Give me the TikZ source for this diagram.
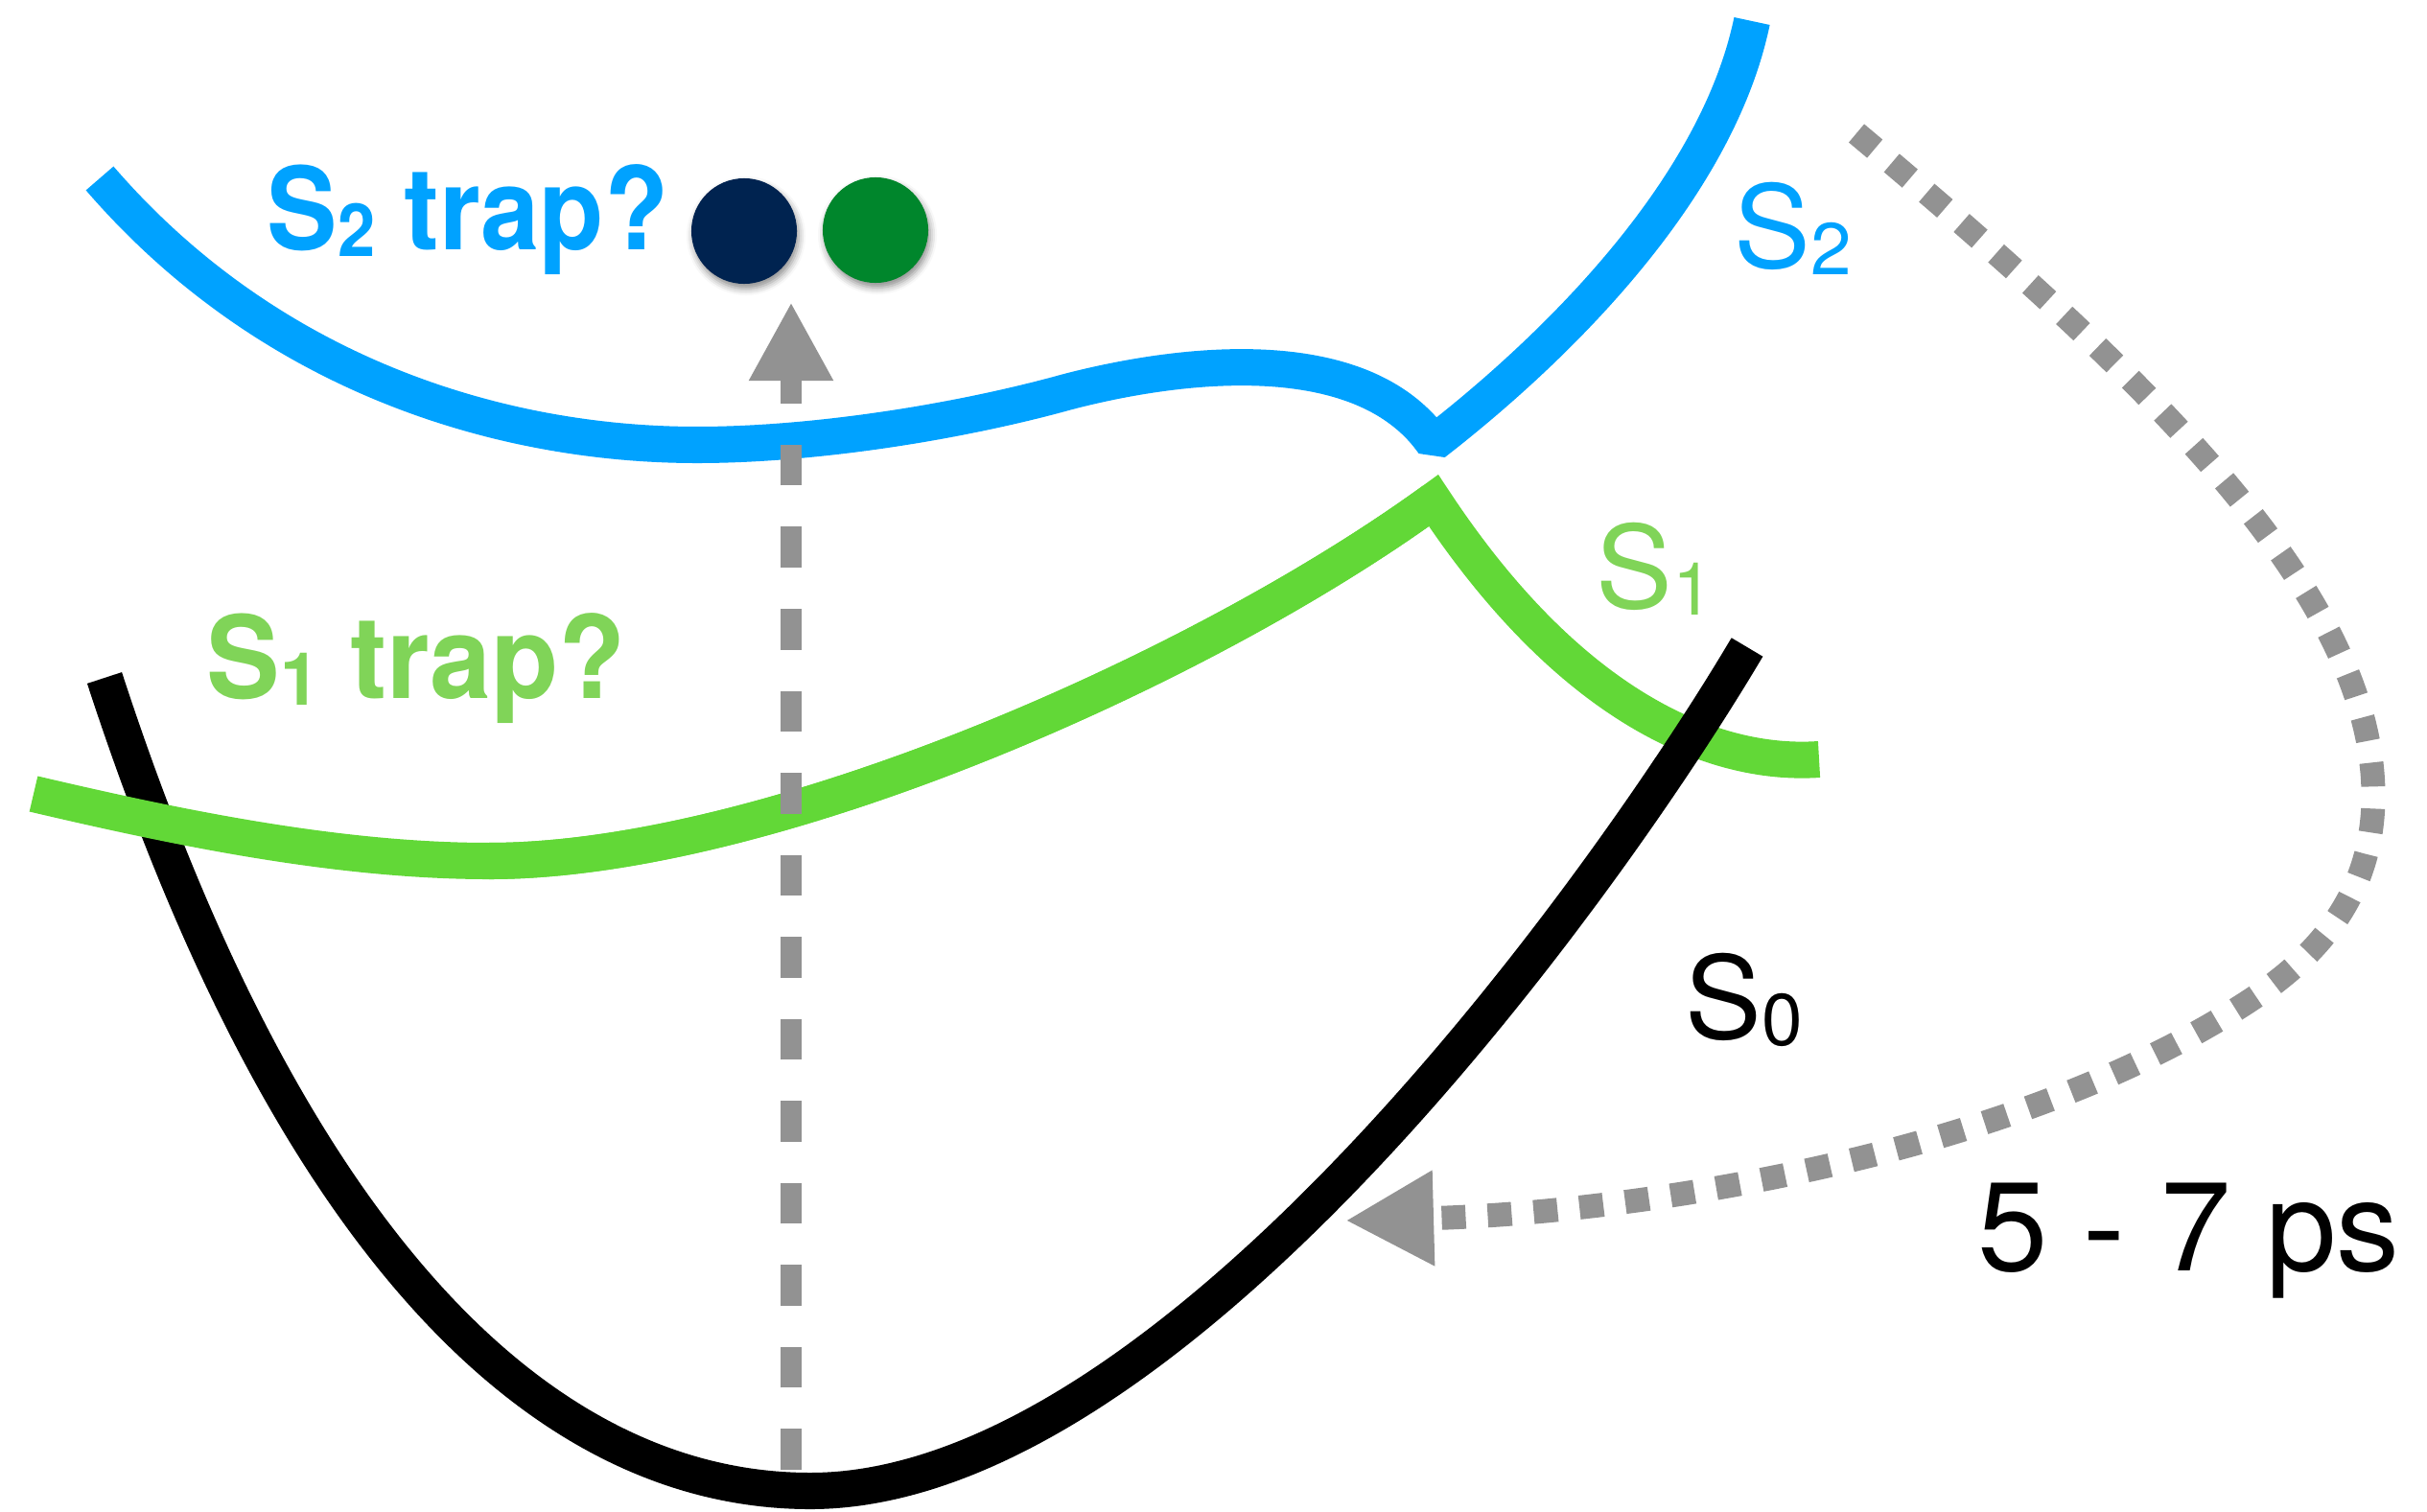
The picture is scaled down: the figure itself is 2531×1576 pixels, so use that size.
\documentclass[tikz,border=0pt]{standalone}
\usepackage{graphicx}
\usepackage{fontspec}
\setmainfont{TeX Gyre Heros}
\usetikzlibrary{arrows.meta,shadows.blur}

\definecolor{sblue}{RGB}{0,162,255}
\definecolor{sgreen}{RGB}{98,216,55}
\definecolor{sgreentxt}{RGB}{128,212,88}
\definecolor{arrgray}{RGB}{146,146,146}
\definecolor{dotnavy}{RGB}{0,35,80}
\definecolor{dotgreen}{RGB}{0,134,44}

\newcommand{\lowsub}[1]{\raisebox{-0.06em}{\scalebox{0.64}{#1}}}

\begin{document}
\begin{tikzpicture}[x=0.01cm, y=-0.01cm,
    pes/.style={line width=0.38cm, line cap=butt},
    trp/.style={anchor=base west, inner sep=0pt, font=\fontsize{34}{40}\selectfont\bfseries},
    stl/.style={anchor=base west, inner sep=0pt, font=\fontsize{34}{40}\selectfont},
    exc/.style={arrgray, line width=0.22cm, dash pattern=on 0.425cm off 0.43cm, -{Triangle[length=0.82cm, width=0.82cm]}},
    rlx/.style={arrgray, line width=0.25cm, dash pattern=on 0.25cm off 0.23cm, -{Triangle[length=0.92cm, width=0.93cm]}},
    trapdot/.style={circle, inner sep=0pt, minimum size=1.1cm,
        blur shadow={shadow xshift=0.02cm, shadow yshift=-0.05cm, shadow blur radius=0.07cm, shadow opacity=45}}
]
\useasboundingbox (0,0) rectangle (2531,1576);

\draw[pes, sgreen, line join=miter] (510,898) .. controls (800,898) and (1250,700) .. (1495,522)
    .. controls (1632,730) and (1780,800) .. (1897,792);
\draw[pes, black] (109,707) .. controls (301,1296) and (565,1555) .. (845,1555)
    .. controls (1220,1555) and (1669,933) .. (1822,675);
\draw[pes, sgreen] (35,828) .. controls (180,862) and (350,898) .. (510,898)
    .. controls (800,898) and (1250,700) .. (1495,522);
\draw[pes, sblue, line join=bevel] (104,186) .. controls (280,390) and (520,464) .. (727,464)
    .. controls (850,464) and (1000,440) .. (1112,409)
    .. controls (1230,378) and (1420,355) .. (1495,462)
    .. controls (1620,365) and (1790,200) .. (1827,22);

\coordinate (gs) at (825,1533);
\coordinate (ex) at (825,315);
\draw[exc] (gs) -- (ex);

\coordinate (hot) at (1936,139);
\coordinate (cold) at (1403,1273);
\draw[rlx] (hot) .. controls (2240,394) and (2475,620) .. (2475,830)
    .. controls (2475,930) and (2420,995) .. (2347,1043)
    .. controls (2096,1208) and (1700,1265) .. (cold);

\node[trapdot, fill=dotnavy] (navy) at (776,241) {};
\node[trapdot, fill=dotgreen] (grn) at (913,240) {};

\node[trp, sblue] (s2trap) at (278,260) {\scalebox{0.92}[1]{S\lowsub{2} trap?}};
\node[trp, sgreentxt] (s1trap) at (215,728) {\scalebox{0.96}[1]{S\lowsub{1} trap?}};
\node[stl, sblue] (s2) at (1808,279) {S\lowsub{2}};
\node[stl, sgreentxt] (s1) at (1664,634) {S\lowsub{1}};
\node[stl] (s0) at (1757,1083) {S\lowsub{0}};
\node[stl, font=\fontsize{37.5}{44}\selectfont] (ps) at (2062,1325) {5 - 7 ps};
\end{tikzpicture}
\end{document}
